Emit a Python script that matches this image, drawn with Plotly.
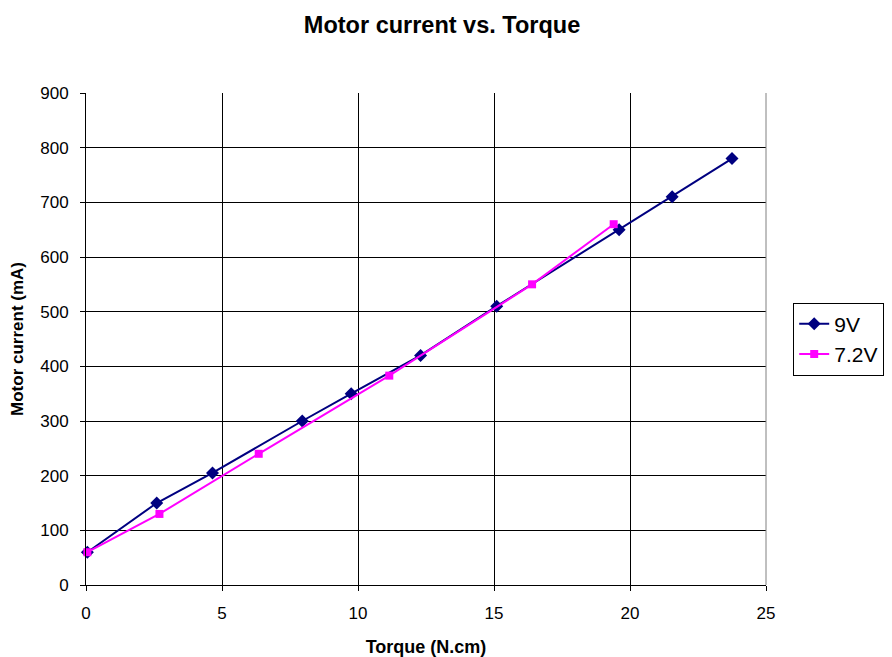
import plotly.graph_objects as go

torque_9v = [0.05, 2.6, 4.65, 7.95, 9.75, 12.3, 15.1, 19.6, 21.55, 23.75]
current_9v = [60, 150, 205, 300, 350, 420, 510, 650, 710, 780]
torque_72v = [0.05, 2.7, 6.35, 11.15, 16.4, 19.4]
current_72v = [60, 130, 240, 383, 550, 660]

x_ticks = [0, 5, 10, 15, 20, 25]
y_ticks = [0, 100, 200, 300, 400, 500, 600, 700, 800, 900]

font = "Liberation Sans, Arial, sans-serif"

fig = go.Figure()
fig.add_trace(go.Scatter(
    x=torque_9v, y=current_9v, name="9V", mode="lines+markers",
    line=dict(color="#000080", width=2),
    marker=dict(symbol="diamond", size=10, color="#000080"),
    cliponaxis=False,
))
fig.add_trace(go.Scatter(
    x=torque_72v, y=current_72v, name="7.2V", mode="lines+markers",
    line=dict(color="#FF00FF", width=2),
    marker=dict(symbol="square", size=8, color="#FF00FF"),
    cliponaxis=False,
))

fig.update_layout(
    width=884, height=649,
    margin=dict(l=78, r=126, t=85, b=72, autoexpand=False),
    paper_bgcolor="white", plot_bgcolor="white",
    title=dict(text="<b>Motor current vs. Torque</b>", x=0.491, xanchor="center",
               y=0.974, yanchor="middle", font=dict(family=font, size=23.5, color="black")),
    font=dict(family=font, size=17, color="black"),
    showlegend=True,
    legend=dict(x=1.04, y=0.5, xanchor="left", yanchor="middle",
                bordercolor="black", borderwidth=1, bgcolor="white",
                font=dict(family=font, size=21, color="black"),
                tracegroupgap=0, itemwidth=30),
    xaxis=dict(range=[0, 25], tickvals=x_ticks, showgrid=True, gridcolor="black", gridwidth=1,
               showline=True, linecolor="black", linewidth=1, ticks="outside", ticklen=5,
               tickcolor="black", zeroline=False, ticklabelstandoff=8,
               tickfont=dict(family=font, size=17),
               title=dict(text="<b>Torque (N.cm)</b>", font=dict(family=font, size=18), standoff=18)),
    yaxis=dict(range=[0, 900], tickvals=y_ticks, showgrid=True, gridcolor="black", gridwidth=1,
               showline=True, linecolor="black", linewidth=1, ticks="outside", ticklen=5,
               tickcolor="black", zeroline=False, ticklabelstandoff=8,
               tickfont=dict(family=font, size=17),
               title=dict(text="<b>Motor current (mA)</b>", font=dict(family=font, size=17), standoff=14)),
    shapes=[dict(type="line", xref="paper", yref="paper", x0=1, x1=1, y0=0, y1=1,
                 line=dict(color="#808080", width=1), layer="above")],
)

fig.write_html("out.html")
